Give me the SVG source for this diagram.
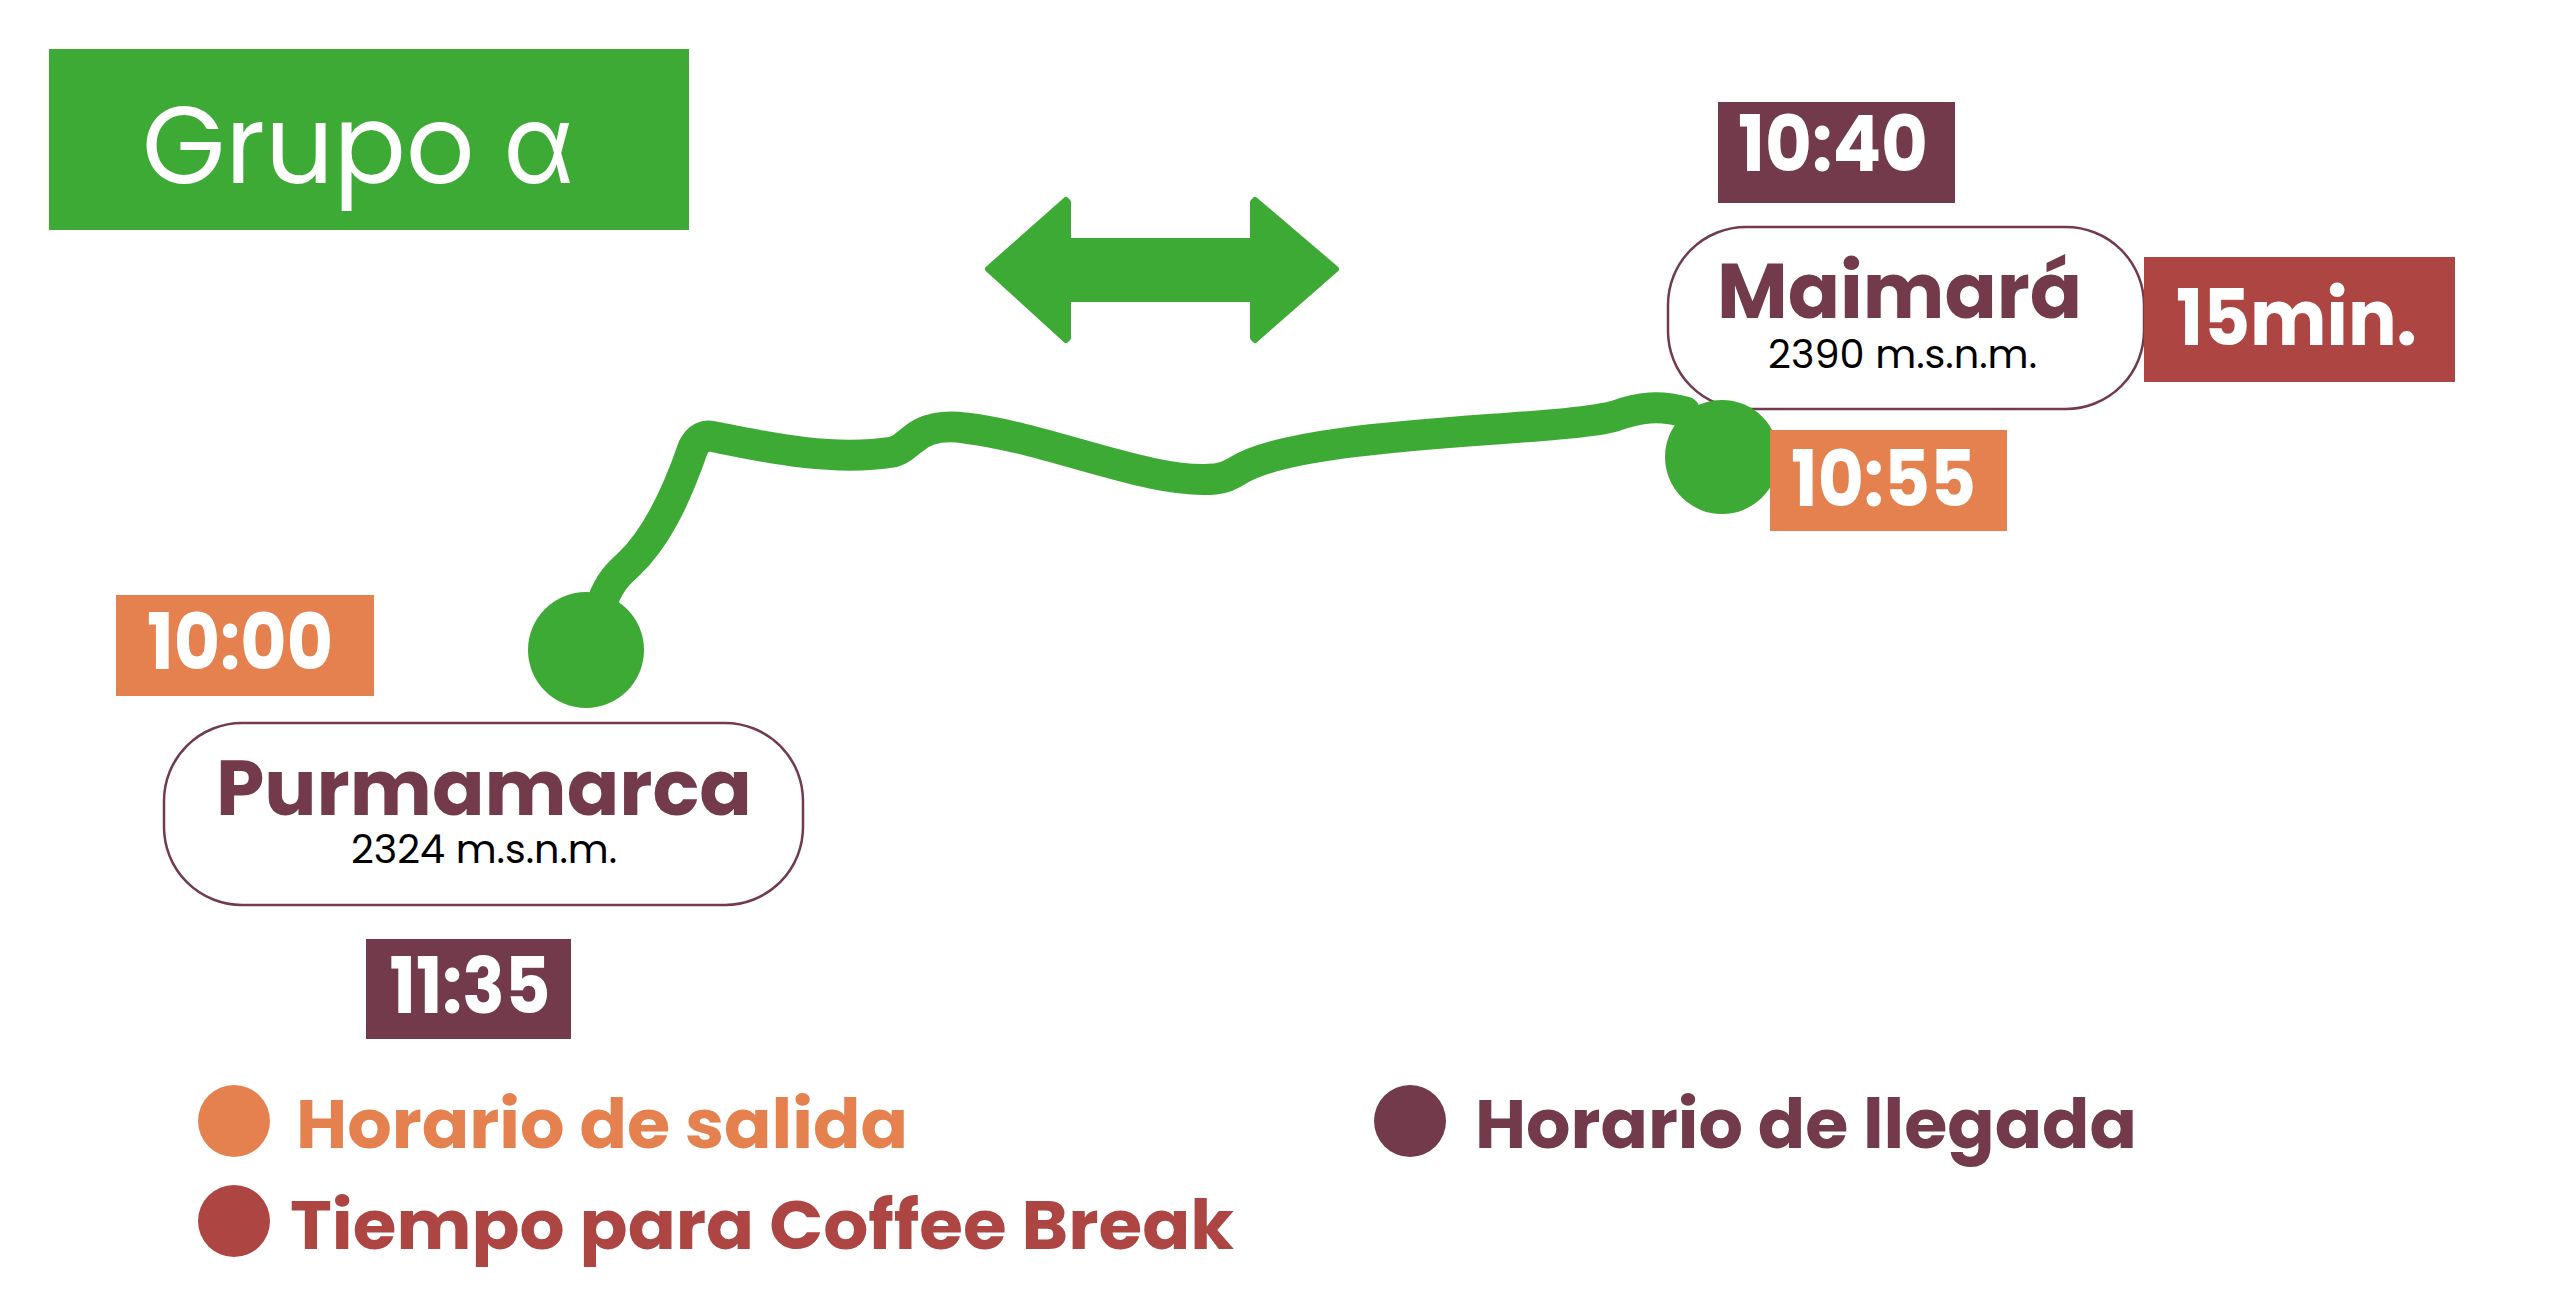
<svg xmlns="http://www.w3.org/2000/svg" width="2560" height="1310" viewBox="0 0 2560 1310">
<style>
.bold{font-family:"Poppins","Inter","Noto Sans","Liberation Sans",sans-serif;font-weight:700;}
.reg{font-family:"Poppins","Inter","Noto Sans","Liberation Sans",sans-serif;font-weight:400;}
.white{fill:#ffffff;}
.purple{fill:#733a4c;}
.orange{fill:#e5814f;}
.red{fill:#ad4642;}
.green{fill:#3daa35;}
.pill{fill:#ffffff;stroke:#733a4c;stroke-width:2.5;}
.time{font-size:78px;}
.place{font-size:77px;}
.alt{font-size:40px;fill:#000000;}
.legend{font-size:69px;}
</style>
<rect width="2560" height="1310" fill="#ffffff"/>

<g id="title">
<rect x="49" y="49" width="640" height="181" class="green"/>
<text x="142" y="183" class="reg white" font-size="110" textLength="432" lengthAdjust="spacingAndGlyphs">Grupo α</text>
</g>

<g id="double-arrow">
<polygon class="green" stroke="#3daa35" stroke-width="6" stroke-linejoin="round" points="988,269 1066,200 1068,202 1068,241 1253,241 1253,202 1255,200 1336,269 1255,340 1253,338 1253,299 1068,299 1068,338 1066,340"/>
</g>

<g id="node-maimara">
<rect x="1668" y="227" width="476" height="182" rx="78" ry="78" class="pill"/>
<text x="1899.5" y="318" text-anchor="middle" class="bold place purple" textLength="365" lengthAdjust="spacingAndGlyphs">Maimará</text>
<text x="1902.5" y="368" text-anchor="middle" class="reg alt" textLength="269" lengthAdjust="spacingAndGlyphs">2390 m.s.n.m.</text>
</g>

<g id="node-purmamarca">
<rect x="164" y="723" width="639" height="182" rx="78" ry="78" class="pill"/>
<text x="484" y="815" text-anchor="middle" class="bold place purple" textLength="536" lengthAdjust="spacingAndGlyphs">Purmamarca</text>
<text x="484" y="863" text-anchor="middle" class="reg alt" textLength="266" lengthAdjust="spacingAndGlyphs">2324 m.s.n.m.</text>
</g>

<g id="connectors">
<path d="M 603,600 C 610,582 618,574 628,565 C 655,540 675,500 693,448 C 698,438 705,434 715,437 C 760,446 830,462 893,452 C 902,450 905,445 912,440 C 925,428 945,425 965,428 C 1050,438 1150,485 1215,479 C 1225,478 1230,475 1237,471 C 1300,430 1560,432 1615,416 C 1640,407 1660,405 1685,412" fill="none" stroke="#3daa35" stroke-width="31" stroke-linecap="round" stroke-linejoin="round"/>
</g>

<g id="stop-purmamarca">
<circle cx="586" cy="650" r="58" class="green"/>
</g>
<g id="stop-maimara">
<circle cx="1722" cy="457" r="57" class="green"/>
</g>

<g id="time-1040">
<rect x="1718" y="102" width="237" height="101" class="purple"/>
<text x="1833" y="171" text-anchor="middle" class="bold time white" textLength="190" lengthAdjust="spacingAndGlyphs">10:40</text>
</g>
<g id="time-15min">
<rect x="2144" y="257" width="311" height="125" class="red"/>
<text x="2296.5" y="345" text-anchor="middle" class="bold time white" textLength="241" lengthAdjust="spacingAndGlyphs">15min.</text>
</g>
<g id="time-1055">
<rect x="1770" y="430" width="237" height="101" class="orange"/>
<text x="1883.5" y="506" text-anchor="middle" class="bold time white" textLength="185" lengthAdjust="spacingAndGlyphs">10:55</text>
</g>
<g id="time-1000">
<rect x="116" y="595" width="258" height="101" class="orange"/>
<text x="240" y="669" text-anchor="middle" class="bold time white" textLength="186" lengthAdjust="spacingAndGlyphs">10:00</text>
</g>
<g id="time-1135">
<rect x="366" y="939" width="205" height="100" class="purple"/>
<text x="470" y="1013" text-anchor="middle" class="bold time white" textLength="161" lengthAdjust="spacingAndGlyphs">11:35</text>
</g>

<g id="legend-salida">
<circle cx="234" cy="1121" r="36" class="orange"/>
<text x="296" y="1148" class="bold legend orange" textLength="612" lengthAdjust="spacingAndGlyphs">Horario de salida</text>
</g>
<g id="legend-llegada">
<circle cx="1410" cy="1121" r="36" class="purple"/>
<text x="1475" y="1148" class="bold legend purple" textLength="662" lengthAdjust="spacingAndGlyphs">Horario de llegada</text>
</g>
<g id="legend-coffee">
<circle cx="234" cy="1221" r="36" class="red"/>
<text x="290" y="1249" class="bold legend red" textLength="944" lengthAdjust="spacingAndGlyphs">Tiempo para Coffee Break</text>
</g>
</svg>
